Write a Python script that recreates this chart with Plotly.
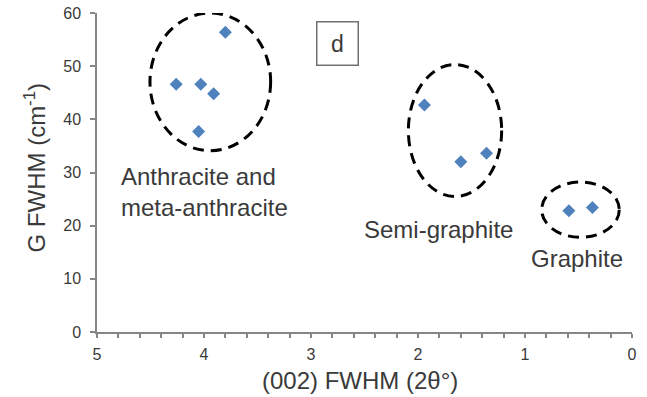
import plotly.graph_objects as go

# Data
fwhm_002 = [4.26, 4.03, 3.91, 3.80, 4.05, 1.94, 1.60, 1.36, 0.59, 0.37]
g_fwhm = [46.6, 46.6, 44.8, 56.4, 37.7, 42.7, 32.0, 33.6, 22.8, 23.4]

# Group ellipses (data units): x0, x1, y0, y1
ellipse_x0 = [4.505, 2.09, 0.844]
ellipse_x1 = [3.377, 1.218, 0.119]
ellipse_y0 = [34.1, 25.5, 17.8]
ellipse_y1 = [60.0, 50.3, 28.2]

group_labels = ["Anthracite and<br>meta-anthracite", "Semi-graphite", "Graphite"]
label_x = [4.79, 1.813, 0.517]
label_y = [26.3, 19.2, 13.9]

x_ticks = [5, 4, 3, 2, 1, 0]
y_ticks = [0, 10, 20, 30, 40, 50, 60]

FONT = "Liberation Sans, Arial, sans-serif"
AXIS_COLOR = "#868686"
TEXT_COLOR = "#3a3a3a"

fig = go.Figure()
fig.add_trace(go.Scatter(
    x=fwhm_002, y=g_fwhm, mode="markers",
    marker=dict(symbol="diamond", size=10, color="#4F81BD"),
    showlegend=False,
))

for x0, x1, y0, y1 in zip(ellipse_x0, ellipse_x1, ellipse_y0, ellipse_y1):
    fig.add_shape(type="circle", xref="x", yref="y", x0=x0, x1=x1, y0=y0, y1=y1,
                  line=dict(color="black", width=3, dash="11px,7px"))

for i, (t, x, y) in enumerate(zip(group_labels, label_x, label_y)):
    fig.add_annotation(text=t, x=x, y=y, xref="x", yref="y", showarrow=False,
                       xanchor="left" if i == 0 else "center", yanchor="middle", align="left",
                       font=dict(family=FONT, size=24, color=TEXT_COLOR))

fig.add_annotation(text="d", x=2.75, y=54.2, xref="x", yref="y", showarrow=False,
                   xanchor="center", yanchor="middle",
                   width=36, height=38, borderpad=2, bordercolor="#707070", borderwidth=1.5,
                   bgcolor="white", font=dict(family=FONT, size=23, color=TEXT_COLOR))

fig.add_annotation(text="(002) FWHM (2θ°)", x=(360 - 97) / 535, y=-(380.7 - 332) / 319,
                   xref="paper", yref="paper", showarrow=False,
                   xanchor="center", yanchor="middle",
                   font=dict(family=FONT, size=24, color=TEXT_COLOR))
fig.add_annotation(text="G FWHM (cm<sup>-1</sup>)", x=(34 - 97) / 535, y=(332 - 167.5) / 319,
                   xref="paper", yref="paper", showarrow=False, textangle=-90,
                   xanchor="center", yanchor="middle",
                   font=dict(family=FONT, size=24, color=TEXT_COLOR))

fig.update_layout(
    width=647, height=397,
    margin=dict(l=97, r=15, t=13, b=65),
    paper_bgcolor="white", plot_bgcolor="white",
    font=dict(family=FONT, color=TEXT_COLOR),
    xaxis=dict(range=[5, 0], tickvals=x_ticks, showgrid=False, zeroline=False,
               automargin=False,
               showline=True, linecolor=AXIS_COLOR, linewidth=1.5,
               ticks="outside", ticklen=4, tickcolor=AXIS_COLOR, tickwidth=1.5,
               ticklabelstandoff=3,
               tickfont=dict(size=16, color=TEXT_COLOR),
               minor=dict(dtick=0.2, ticks="outside", ticklen=4, tickcolor=AXIS_COLOR, tickwidth=1.5)),
    yaxis=dict(range=[0, 60], tickvals=y_ticks, showgrid=False, zeroline=False,
               automargin=False,
               showline=True, linecolor=AXIS_COLOR, linewidth=1.5,
               ticks="outside", ticklen=5, tickcolor=AXIS_COLOR, tickwidth=1.5,
               ticklabelstandoff=6,
               tickfont=dict(size=16, color=TEXT_COLOR)),
)

fig.write_html("out.html")
